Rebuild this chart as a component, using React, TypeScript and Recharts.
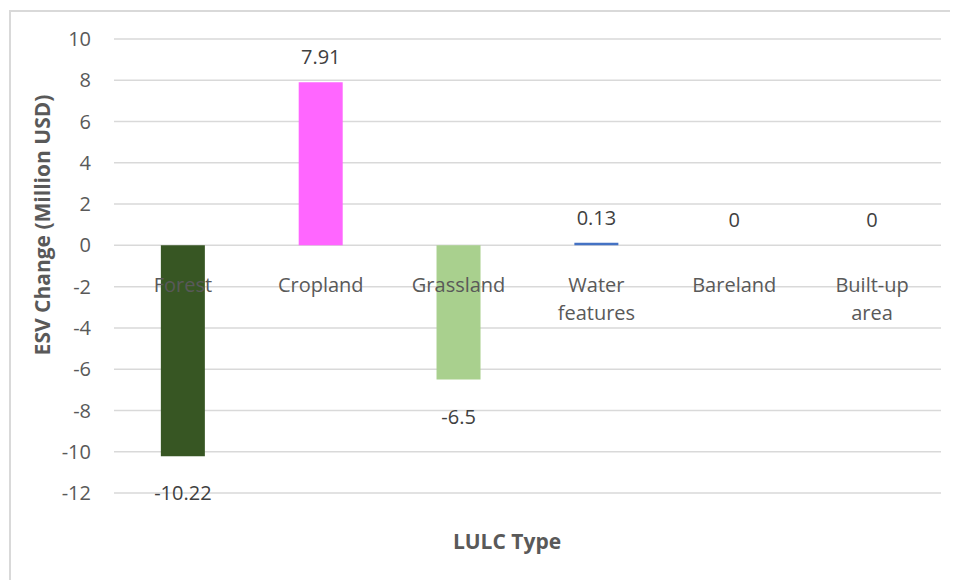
import React from "react";
import {
  BarChart,
  Bar,
  Cell,
  XAxis,
  YAxis,
  CartesianGrid,
  ReferenceDot,
} from "recharts";

const categories = ["Forest", "Cropland", "Grassland", "Water features", "Bareland", "Built-up area"];
const esvChange = [-10.22, 7.91, -6.5, 0.13, 0, 0];
const valueLabels = ["-10.22", "7.91", "-6.5", "0.13", "0", "0"];
const barColors = ["#375623", "#FF66FF", "#A9D08E", "#4472C4", "#A5A5A5", "#FFC000"];
const yTicks = [-12, -10, -8, -6, -4, -2, 0, 2, 4, 6, 8, 10];

const data = categories.map((name, i) => ({
  name,
  value: esvChange[i],
}));

const FONT = "'Open Sans', sans-serif";

// category names sit just under the zero line, like Excel's "next to axis"
const CategoryLabel = ({ cx, cy, name }: any) => {
  const lines = name.split(" ");
  return (
    <text x={cx} y={cy + 40} textAnchor="middle" fill="#595959" fontSize={20} fontFamily={FONT}>
      {lines.map((l: string, i: number) => (
        <tspan key={i} x={cx} dy={i === 0 ? 7 : 28}>
          {l}
        </tspan>
      ))}
    </text>
  );
};

// data label at the outside end of each bar (zero-height bars included)
const ValueLabel = ({ cx, cy, value, text }: any) => {
  const ty = value >= 0 ? cy - 25 : cy + 37;
  return (
    <text x={cx} y={ty} dy={7} textAnchor="middle" fill="#404040" fontSize={20} fontFamily={FONT}>
      {text}
    </text>
  );
};

export default function App() {
  return (
    <div style={{ position: "relative", width: 950, height: 572, overflow: "hidden", background: "#fff" }}>
      <div
        style={{
          position: "absolute",
          left: 1,
          top: 2,
          width: 1000,
          height: 1000,
          border: "2px solid #d9d9d9",
        }}
      />
      <BarChart
        width={950}
        height={572}
        data={data}
        margin={{ top: 31, right: 17, left: 0, bottom: 87 }}
        barCategoryGap="34%"
        style={{ position: "absolute", left: 0, top: 0 }}
      >
        <CartesianGrid vertical={false} stroke="#d9d9d9" strokeWidth={1.5} />
        <XAxis dataKey="name" hide />
        <YAxis
          width={106}
          domain={[-12, 10]}
          ticks={yTicks}
          interval={0}
          axisLine={false}
          tickLine={false}
          tickSize={0}
          tickMargin={23}
          tick={{ fill: "#595959", fontSize: 20, fontFamily: FONT }}
        />
        <Bar dataKey="value" isAnimationActive={false}>
          {data.map((d, i) => (
            <Cell key={d.name} fill={barColors[i]} />
          ))}
        </Bar>
        {categories.map((c) => (
          <ReferenceDot
            key={"cat-" + c}
            x={c}
            y={0}
            r={0}
            ifOverflow="visible"
            shape={(p: any) => <CategoryLabel cx={p.cx} cy={p.cy} name={c} />}
          />
        ))}
        {categories.map((c, i) => (
          <ReferenceDot
            key={"val-" + c}
            x={c}
            y={esvChange[i]}
            r={0}
            ifOverflow="visible"
            shape={(p: any) => (
              <ValueLabel cx={p.cx} cy={p.cy} value={esvChange[i]} text={valueLabels[i]} />
            )}
          />
        ))}
      </BarChart>
      <div
        style={{
          position: "absolute",
          left: 499,
          top: 533,
          transform: "translate(-50%, -50%)",
          fontFamily: FONT,
          fontWeight: 700,
          fontSize: 21,
          color: "#595959",
          whiteSpace: "nowrap",
        }}
      >
        LULC Type
      </div>
      <div
        style={{
          position: "absolute",
          left: 34,
          top: 217,
          transform: "translate(-50%, -50%) rotate(-90deg)",
          fontFamily: FONT,
          fontWeight: 700,
          fontSize: 21,
          color: "#595959",
          whiteSpace: "nowrap",
        }}
      >
        ESV Change (Million USD)
      </div>
    </div>
  );
}
